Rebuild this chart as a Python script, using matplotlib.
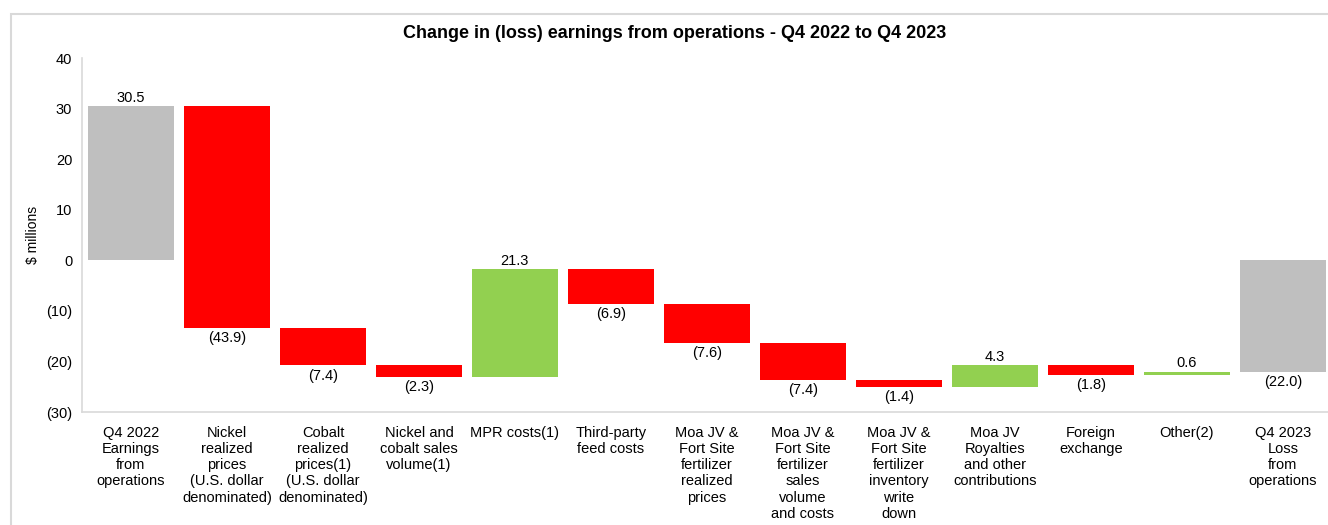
import numpy as np
import matplotlib.pyplot as plt
from matplotlib.patches import Rectangle

plt.rcParams['font.family'] = ['Liberation Sans', 'DejaVu Sans']

# -----------------------------
# Data
# -----------------------------
categories = [
    "Q4 2022\nEarnings\nfrom\noperations",
    "Nickel\nrealized\nprices\n(U.S. dollar\ndenominated)",
    "Cobalt\nrealized\nprices(1)\n(U.S. dollar\ndenominated)",
    "Nickel and\ncobalt sales\nvolume(1)",
    "MPR costs(1)",
    "Third-party\nfeed costs",
    "Moa JV &\nFort Site\nfertilizer\nrealized\nprices",
    "Moa JV &\nFort Site\nfertilizer\nsales\nvolume\nand costs",
    "Moa JV &\nFort Site\nfertilizer\ninventory\nwrite\ndown",
    "Moa JV\nRoyalties\nand other\ncontributions",
    "Foreign\nexchange",
    "Other(2)",
    "Q4 2023\nLoss\nfrom\noperations",
]
start_value = 30.5
changes = [-43.9, -7.4, -2.3, 21.3, -6.9, -7.6, -7.4, -1.4, 4.3, -1.8, 0.6]
end_value = -22.0

yticks = [40, 30, 20, 10, 0, -10, -20, -30]
ytick_labels = ["40", "30", "20", "10", "0", "(10)", "(20)", "(30)"]

grey = "#BFBFBF"
red = "#FF0000"
green = "#92D050"

# -----------------------------
# Build waterfall
# -----------------------------
cum = start_value + np.cumsum(changes)
prev = np.concatenate([[start_value], cum[:-1]])

bottoms = [0] + list(np.minimum(prev, cum)) + [0]
heights = [start_value] + list(np.abs(changes)) + [end_value]
colors = [grey] + [green if c > 0 else red for c in changes] + [grey]
values = [start_value] + changes + [end_value]

x = np.arange(len(categories))

fig = plt.figure(figsize=(13.28, 5.25), dpi=100)
ax = fig.add_axes([82 / 1328, 1 - 412 / 525, 1 - 82 / 1328, (412 - 58) / 525])

ax.bar(x, heights, bottom=bottoms, color=colors, width=0.9)

def fmt(v):
    return f"({abs(v):.1f})" if v < 0 else f"{v:.1f}"

fs = 10.5
for i, v in enumerate(values):
    if i == 0:
        ax.text(x[i], start_value + 0.3, fmt(v), ha='center', va='bottom', fontsize=fs)
    elif i == len(values) - 1:
        ax.text(x[i], end_value - 0.6, fmt(v), ha='center', va='top', fontsize=fs)
    else:
        top = bottoms[i] + heights[i]
        if v > 0:
            ax.text(x[i], top + 0.3, fmt(v), ha='center', va='bottom', fontsize=fs)
        else:
            ax.text(x[i], bottoms[i] - 0.6, fmt(v), ha='center', va='top', fontsize=fs)

ax.set_xlim(-0.51, 12.47)
ax.set_ylim(-30, 40)
ax.set_yticks(yticks)
ax.set_yticklabels(ytick_labels, fontsize=fs)
ax.set_xticks(x)
ax.set_xticklabels(categories, fontsize=fs, linespacing=1.2, va='top')
ax.tick_params(axis='both', length=0)
ax.tick_params(axis='y', pad=7)
ax.tick_params(axis='x', pad=10)

for s in ['top', 'right']:
    ax.spines[s].set_visible(False)
for s in ['left', 'bottom']:
    ax.spines[s].set_color("#D9D9D9")
    ax.spines[s].set_linewidth(1.2)

ax.set_ylabel("$ millions", fontsize=10)
ax.yaxis.set_label_coords(-0.034, 0.5)

fig.text(675 / 1328, 1 - 33 / 525, "Change in (loss) earnings from operations - Q4 2022 to Q4 2023",
         ha='center', va='center', fontsize=13, fontweight='bold')

# outer chart border
fig.patches.append(Rectangle((11 / 1328, -0.1), 1.1, 1.1 - 14 / 525, transform=fig.transFigure,
                             fill=False, edgecolor="#D9D9D9", linewidth=1.5))

plt.savefig("out.png", dpi=100)
